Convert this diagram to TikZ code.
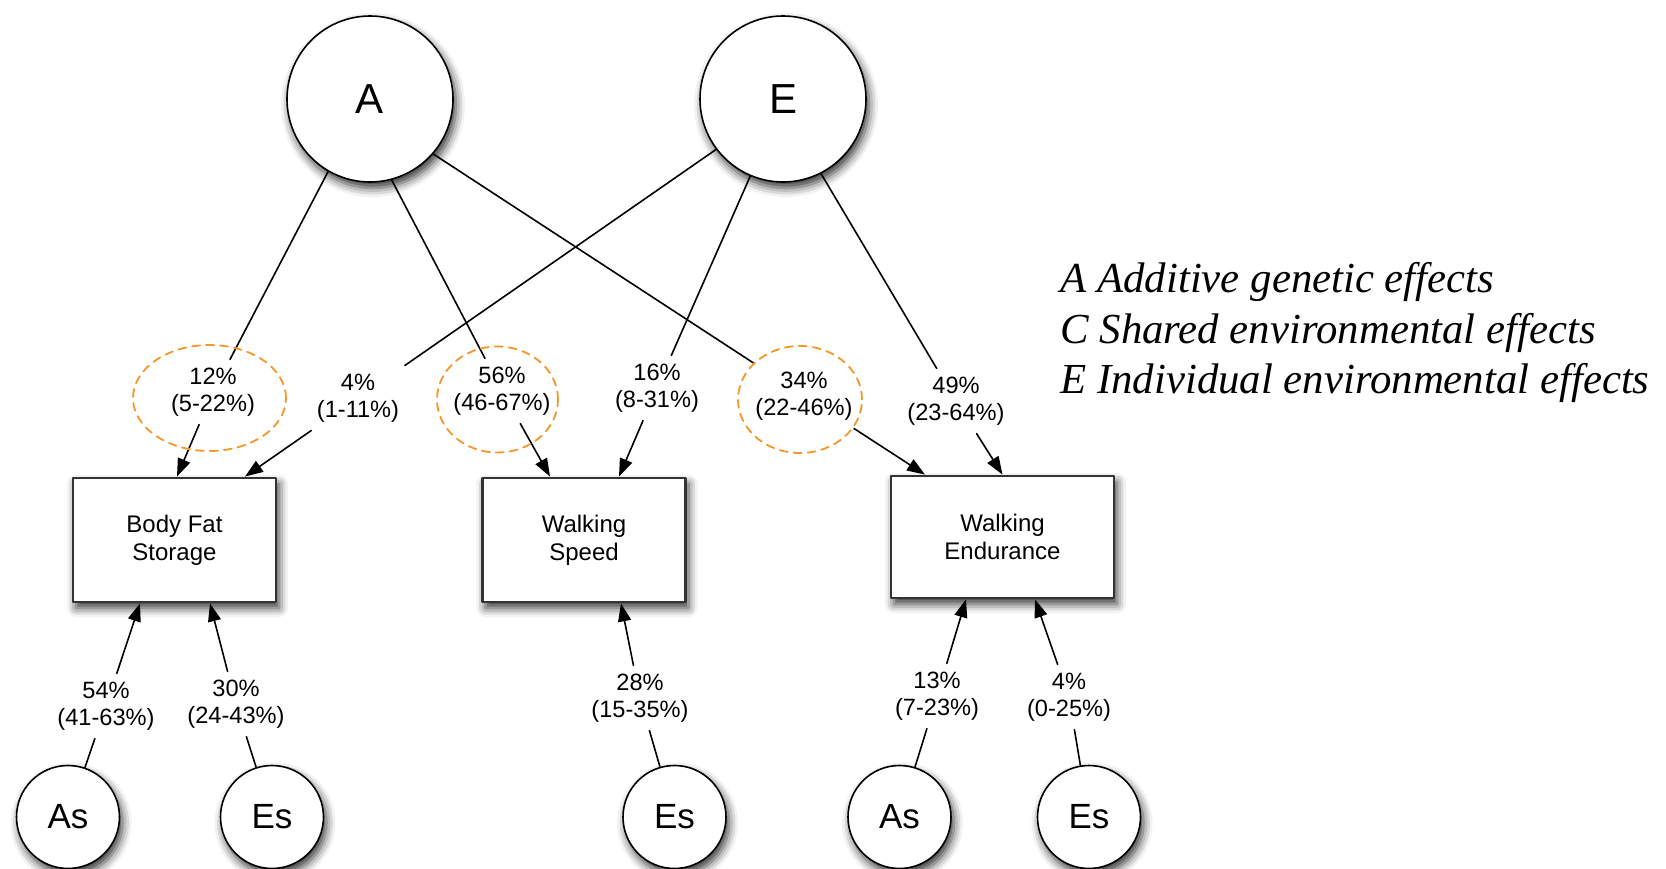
\documentclass[tikz,border=0pt]{standalone}
\usepackage{fontspec}
\setmainfont{Liberation Sans}
\newfontfamily\legendfont{Liberation Serif}
\usetikzlibrary{arrows.meta,shadows.blur}

\definecolor{ringorange}{RGB}{246,150,40}

\tikzset{
  softshadow/.style={blur shadow={shadow xshift=1.5pt,shadow yshift=-3pt,shadow blur radius=4.5pt,shadow opacity=80}},
  latent/.style={circle,draw=black,line width=0.8pt,fill=white,inner sep=0pt,softshadow},
  factor/.style={latent,minimum size=83pt,font=\fontsize{21}{21}\selectfont},
  specific/.style={latent,minimum size=51.5pt,font=\fontsize{17.5}{17.5}\selectfont},
  trait/.style={rectangle,draw=black!80,line width=1.4pt,fill=white,align=center,
    minimum width=101.5pt,minimum height=62pt,font=\fontsize{12}{14}\selectfont,softshadow},
  est/.style={align=center,inner sep=4pt,font=\fontsize{11.8}{13.5}\selectfont},
  loading/.style={line width=0.8pt,-{Triangle[length=9pt,width=6.5pt]}},
  ring/.style={draw=ringorange,dashed,dash pattern=on 4pt off 3pt,line width=0.9pt},
  legend/.style={anchor=base west,inner sep=0pt,font=\legendfont\itshape\fontsize{21.4}{24}\selectfont}
}

\begin{document}
\begin{tikzpicture}[x=0.5pt,y=-0.5pt,line cap=round,line join=round]
\useasboundingbox (0,0) rectangle (1666,868);

\node[factor] (A) at (370,99) {A};
\node[factor] (E) at (783,99) {E};

\node[trait] (bf) at (174.5,540) {Body Fat\\Storage};
\node[trait] (ws) at (584,540) {Walking\\Speed};
\node[trait,minimum width=111.5pt,minimum height=61pt] (we) at (1002.5,537) {Walking\\Endurance};

\node[specific] (as1) at (68,817) {As};
\node[specific] (es1) at (272,817) {Es};
\node[specific] (es2) at (674.5,817) {Es};
\node[specific] (as2) at (899.5,817) {As};
\node[specific] (es3) at (1089,817) {Es};

\node[est] (l12) at (213,392) {12\%\\(5-22\%)};
\node[est] (l4) at (358,398) {4\%\\(1-11\%)};
\node[est] (l56) at (502,391) {56\%\\(46-67\%)};
\node[est] (l16) at (657,388) {16\%\\(8-31\%)};
\node[est] (l34) at (804,396) {34\%\\(22-46\%)};
\node[est] (l49) at (956,401) {49\%\\(23-64\%)};

\node[est] (l54) at (106,706) {54\%\\(41-63\%)};
\node[est] (l30) at (236,704) {30\%\\(24-43\%)};
\node[est] (l28) at (640,698) {28\%\\(15-35\%)};
\node[est] (l13) at (937,696) {13\%\\(7-23\%)};
\node[est] (l4s) at (1069,697) {4\%\\(0-25\%)};

\draw[loading] (A.-120) -- (l12) -- ([xshift=1.25pt]bf.north);
\draw[loading] (E.-143) -- (l4) -- ([xshift=35.25pt]bf.north);
\draw[loading] (A.-75) -- (l56) -- ([xshift=-17pt]ws.north);
\draw[loading] (E.-113) -- (l16) -- ([xshift=17.5pt]ws.north);
\draw[loading] (A.-41) -- (l34) -- ([xshift=-38.75pt]we.north);
\draw[loading] (E.-63) -- (l49) -- (we.north);

\draw[loading] (as1) -- (l54) -- ([xshift=-17.25pt]bf.south);
\draw[loading] (es1) -- (l30) -- ([xshift=17.75pt]bf.south);
\draw[loading] (es2) -- (l28) -- ([xshift=18.5pt]ws.south);
\draw[loading] (as2) -- (l13) -- ([xshift=-18.25pt]we.south);
\draw[loading] (es3) -- (l4s) -- ([xshift=16.25pt]we.south);

\draw[ring] (209.5,398) ellipse [x radius=38.25pt,y radius=26.5pt];
\draw[ring] (497.5,399.5) ellipse [x radius=30.25pt,y radius=26.5pt];
\draw[ring] (800,399.5) ellipse [x radius=31pt,y radius=26.75pt];

\node[legend] (leg1) at (1060,292) {A Additive genetic effects};
\node[legend] (leg2) at (1060,343) {C Shared environmental effects};
\node[legend] (leg3) at (1060,393) {E Individual environmental effects};
\end{tikzpicture}
\end{document}
